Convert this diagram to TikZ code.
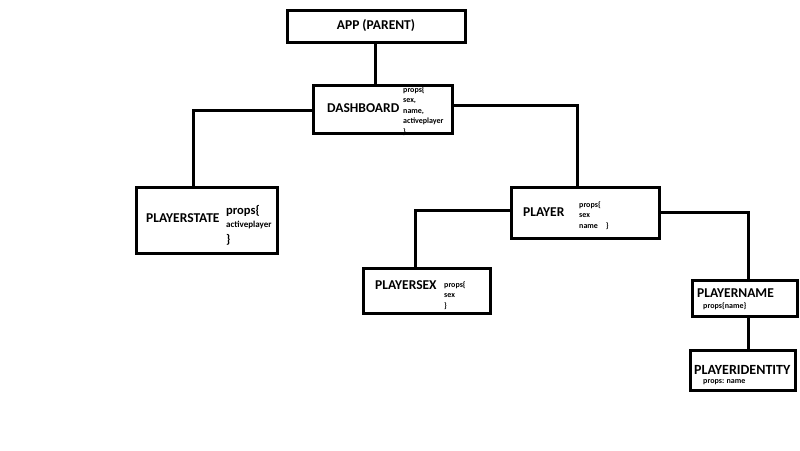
\documentclass[tikz,border=0pt]{standalone}
\usepackage{fontspec}
\setmainfont{Carlito}
\tikzset{
  box/.style={draw, line width=3pt, inner sep=0pt, minimum width=#1},
  box/.default=100pt,
  title/.style={font=\bfseries\fontsize{13.5}{13.5}\selectfont, inner sep=0pt, anchor=west},
  small/.style={font=\bfseries\fontsize{8}{10.5}\selectfont, inner sep=0pt, anchor=north west, align=left},
  link/.style={line width=3pt}
}
\begin{document}
\begin{tikzpicture}[x=1pt,y=-1pt]
      \useasboundingbox (0,0) rectangle (800,450);
      \fill[white] (0,0) rectangle (800,450);

      \node[box=178pt, minimum height=32pt] (app)    at (376,26)    {};
      \node[box=139pt, minimum height=48pt] (dash)   at (382.5,109) {};
      \node[box=141pt, minimum height=66pt] (pstate) at (206.5,220) {};
      \node[box=148pt, minimum height=51pt] (player) at (585,212.5) {};
      \node[box=127pt, minimum height=45pt] (psex)   at (426.5,290.5) {};
      \node[box=105pt, minimum height=36pt] (pname)  at (744.5,298) {};
      \node[box=105pt, minimum height=40pt] (pident) at (742.5,370) {};

      \node[title, anchor=center] (apptxt) at (376,26) {APP (PARENT)};
      \node[title] (dashtxt)   at (327,108) {DASHBOARD};
      \node[title] (pstatetxt) at (146,218) {PLAYERSTATE};
      \node[title] (playertxt) at (523,212) {PLAYER};
      \node[title] (psextxt)   at (375,285) {PLAYERSEX};
      \node[title] (pnametxt)  at (697,293) {PLAYERNAME};
      \node[title, font=\bfseries\fontsize{14}{14}\selectfont] (pidenttxt) at (694,370) {PLAYERIDENTITY};

      \node[small] (dashprops) at (403,86) {props\{\\sex,\\name,\\activeplayer\\\}};
      \node[title, font=\bfseries\fontsize{12.5}{12.5}\selectfont] (pstateopen) at (226,211) {props\{};
      \node[small, font=\bfseries\fontsize{9}{9}\selectfont] (pstateprops) at (226,221) {activeplayer};
      \node[title, font=\bfseries\fontsize{12.5}{12.5}\selectfont] (pstateclose) at (226,240) {\}};
      \node[small] (playerprops) at (579,201) {props\{\\sex\\name\quad\}};
      \node[small] (psexprops)   at (444,281) {props\{\\sex\\\}};
      \node[small] (pnameprops)  at (703,302) {props\{name\}};
      \node[small] (pidentprops) at (703,379) {props: name};

      \draw[link] ([xshift=-1pt]app.south) -- ([xshift=-1pt]app.south |- dash.north);
      \draw[link] ([yshift=-1pt]dash.west) -| ([xshift=-13.5pt]pstate.north);
      \draw[link] ([yshift=4pt]dash.east) -| ([xshift=-8pt]player.north);
      \draw[link] ([yshift=2.5pt]player.west) -| ([xshift=-11.5pt]psex.north);
      \draw[link] (player.east) -| ([xshift=3.5pt]pname.north);
      \draw[link] ([xshift=3.5pt]pname.south) -- ([xshift=3.5pt]pname.south |- pident.north);
\end{tikzpicture}
\end{document}
